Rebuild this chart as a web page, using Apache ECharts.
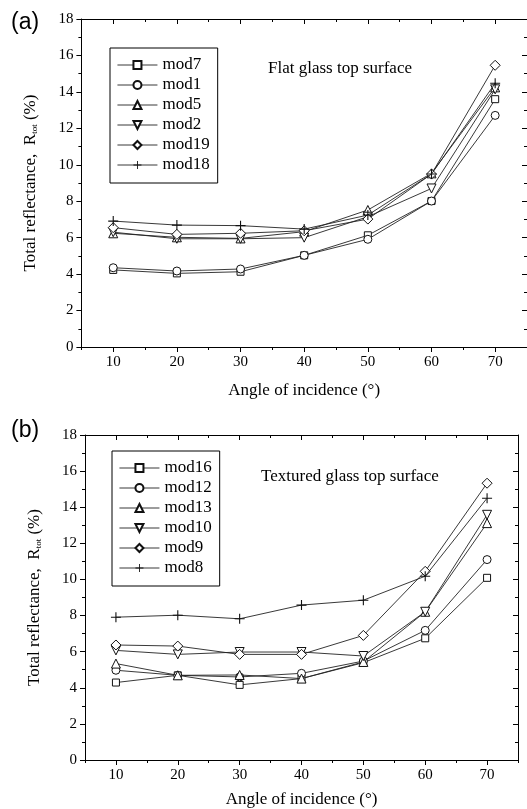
<!DOCTYPE html>
<html><head><meta charset="utf-8">
<script src="https://cdn.jsdelivr.net/npm/echarts@6/dist/echarts.min.js"></script>
<style>html,body{margin:0;padding:0;background:#fff}#c{width:527px;height:809px}</style>
</head><body><div id="c"></div>
<script>
const angles = [10, 20, 30, 40, 50, 60, 70];
const xMajorTicks = [10, 20, 30, 40, 50, 60, 70];
const xMinorTicks = [5, 15, 25, 35, 45, 55, 65, 75];

// Panel (a): flat glass top surface
const namesA = ['mod7', 'mod1', 'mod5', 'mod2', 'mod19', 'mod18'];
const mod7 = [4.23, 4.04, 4.13, 5.03, 6.13, 8.01, 13.6];
const mod1 = [4.35, 4.17, 4.28, 5.03, 5.91, 8.01, 12.71];
const mod5 = [6.24, 6.02, 5.96, 6.33, 7.52, 9.53, 14.25];
const mod2 = [6.3, 5.94, 5.94, 6.0, 7.15, 8.7, 14.14];
const mod19 = [6.55, 6.18, 6.24, 6.38, 7.02, 9.49, 15.46];
const mod18 = [6.91, 6.69, 6.66, 6.47, 7.24, 9.49, 14.47];

// Panel (b): textured glass top surface
const namesB = ['mod16', 'mod12', 'mod13', 'mod10', 'mod9', 'mod8'];
const mod16 = [4.29, 4.69, 4.16, 4.51, 5.39, 6.74, 10.09];
const mod12 = [4.97, 4.69, 4.6, 4.8, 5.48, 7.18, 11.1];
const mod13 = [5.34, 4.69, 4.71, 4.51, 5.43, 8.21, 13.12];
const mod10 = [6.07, 5.85, 5.98, 5.98, 5.76, 8.21, 13.58];
const mod9 = [6.37, 6.31, 5.85, 5.85, 6.9, 10.45, 15.33];
const mod8 = [7.91, 8.02, 7.82, 8.58, 8.85, 10.18, 14.5];

const valuesA = [mod7, mod1, mod5, mod2, mod19, mod18];
const valuesB = [mod16, mod12, mod13, mod10, mod9, mod8];

const SERIF = 'Liberation Serif';
const downTri = 'path://M0,0 L10,0 L5,9 Z';
const plus = 'path://M4.45,0 H5.55 V4.45 H10 V5.55 H5.55 V10 H4.45 V5.55 H0 V4.45 H4.45 Z';
const symbols = [
  {s: 'rect', size: 7},
  {s: 'circle', size: 8},
  {s: 'triangle', size: 9},
  {s: downTri, size: 9},
  {s: 'diamond', size: 10},
  {s: plus, size: 10}
];

function makeSeries(names, values, xi, yi) {
  return names.map((n, k) => {
    const isPlus = k === 5;
    return {
      name: n, type: 'line', xAxisIndex: xi, yAxisIndex: yi,
      data: angles.map((a, i) => [a, values[k][i]]),
      symbol: symbols[k].s, symbolSize: symbols[k].size,
      showAllSymbol: true,
      lineStyle: {color: '#222', width: 0.9},
      itemStyle: isPlus ? {color: '#111', borderWidth: 0}
                        : {color: '#fff', borderColor: '#111', borderWidth: 1},
      emphasis: {disabled: true},
      z: 3 + k
    };
  });
}

const axLine = {show: true, lineStyle: {color: '#000', width: 1}};
function xAxes(gi, name, nameGap) {
  return [
    {gridIndex: gi, type: 'value', position: 'bottom', min: 5, max: 75,
     axisLine: axLine, splitLine: {show: false},
     axisTick: {show: true, inside: false, length: 5, customValues: xMajorTicks, lineStyle: {color: '#000'}},
     axisLabel: {show: true, customValues: xMajorTicks, margin: 8, color: '#000', fontFamily: SERIF, fontSize: 15},
     name: name, nameLocation: 'middle', nameGap: nameGap,
     nameTextStyle: {color: '#000', fontFamily: SERIF, fontSize: 17}},
    {gridIndex: gi, type: 'value', position: 'bottom', min: 5, max: 75,
     axisLine: {show: false}, splitLine: {show: false}, axisLabel: {show: false},
     axisTick: {show: true, inside: false, length: 3, customValues: xMinorTicks, lineStyle: {color: '#000'}}},
    {gridIndex: gi, type: 'value', position: 'top', min: 5, max: 75,
     axisLine: axLine, splitLine: {show: false}, axisLabel: {show: false},
     axisTick: {show: true, inside: true, length: 5, customValues: xMajorTicks, lineStyle: {color: '#000'}}},
    {gridIndex: gi, type: 'value', position: 'top', min: 5, max: 75,
     axisLine: {show: false}, splitLine: {show: false}, axisLabel: {show: false},
     axisTick: {show: true, inside: true, length: 3, customValues: xMinorTicks, lineStyle: {color: '#000'}}}
  ];
}
const yName = '{a|Total reflectance,  R}{s|tot}{a| (%)}';
function yAxes(gi) {
  return [
    {gridIndex: gi, type: 'value', position: 'left', min: 0, max: 18, interval: 2,
     axisLine: axLine, splitLine: {show: false},
     axisTick: {show: true, inside: false, length: 5, lineStyle: {color: '#000'}},
     minorTick: {show: true, splitNumber: 2, length: 3, lineStyle: {color: '#000'}},
     minorSplitLine: {show: false},
     axisLabel: {margin: 8, color: '#000', fontFamily: SERIF, fontSize: 15},
     name: yName, nameLocation: 'middle', nameGap: 42,
     nameTextStyle: {color: '#000', fontFamily: SERIF,
       rich: {a: {fontFamily: SERIF, fontSize: 17, color: '#000'},
              s: {fontFamily: SERIF, fontSize: 9, color: '#000', verticalAlign: 'bottom', padding: [8, 0, 0, 0]}}}},
    {gridIndex: gi, type: 'value', position: 'right', min: 0, max: 18, interval: 2,
     axisLine: axLine, splitLine: {show: false}, axisLabel: {show: false},
     axisTick: {show: true, inside: true, length: 5, lineStyle: {color: '#000'}},
     minorTick: {show: true, splitNumber: 2, length: 3, lineStyle: {color: '#000'}},
     minorSplitLine: {show: false}}
  ];
}
function legend(names, left, top) {
  return {
    data: names, orient: 'vertical', left: left, top: top,
    itemWidth: 40, itemHeight: 10, itemGap: 0,
    padding: [7, 8, 8, 7],
    borderColor: '#000', borderWidth: 1, backgroundColor: '#fff',
    lineStyle: {width: 0.9, color: '#222'},
    textStyle: {color: '#000', fontFamily: SERIF, fontSize: 17, lineHeight: 20},
    selectedMode: false
  };
}

const chart = echarts.init(document.getElementById('c'), null, {renderer: 'canvas'});
chart.setOption({
  animation: false,
  backgroundColor: '#fff',
  grid: [
    {left: 81.4, top: 19, width: 447, height: 328, containLabel: false},
    {left: 85, top: 435, width: 433, height: 326, containLabel: false}
  ],
  xAxis: [...xAxes(0, 'Angle of incidence (°)', 35), ...xAxes(1, 'Angle of incidence (°)', 31)],
  yAxis: [...yAxes(0), ...yAxes(1)],
  legend: [legend(namesA, 110, 48), legend(namesB, 112, 451)],
  title: [
    {text: '(a)', left: 6, top: 6, textStyle: {fontFamily: 'Liberation Sans', fontWeight: 'normal', fontSize: 23, color: '#000'}},
    {text: '(b)', left: 6, top: 414, textStyle: {fontFamily: 'Liberation Sans', fontWeight: 'normal', fontSize: 23, color: '#000'}},
    {text: 'Flat glass top surface', left: 263, top: 55, textStyle: {fontFamily: SERIF, fontWeight: 'normal', fontSize: 17, color: '#000'}},
    {text: 'Textured glass top surface', left: 256, top: 463, textStyle: {fontFamily: SERIF, fontWeight: 'normal', fontSize: 17, color: '#000'}}
  ],
  series: [...makeSeries(namesA, valuesA, 0, 0), ...makeSeries(namesB, valuesB, 4, 2)]
});
</script></body></html>
